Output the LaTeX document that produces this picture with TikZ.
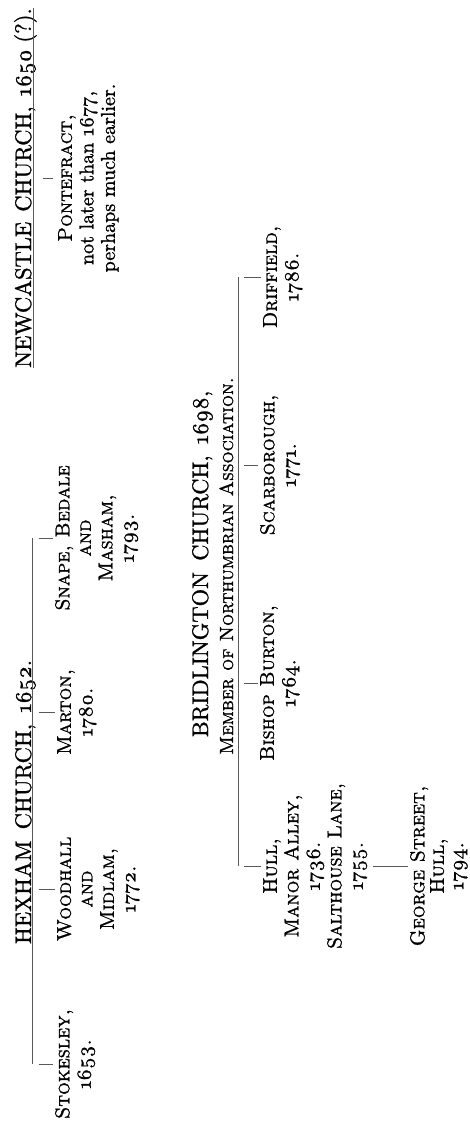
\documentclass[tikz,border=0pt]{standalone}
\usepackage{fontspec}
\setmainfont{lmroman10-regular}[Extension=.otf, FakeBold=1.2,
  SmallCapsFont=lmromancaps10-regular, SmallCapsFeatures={FakeBold=1.2}]
\newcommand\osn[1]{\oldstylenums{#1}}
\tikzset{
  headline/.style={rotate=90, inner sep=0pt, anchor=base, text=black,
    font=\fontsize{22.5}{25}\selectfont},
  subline/.style={rotate=90, inner sep=0pt, anchor=base, text=black,
    font=\fontsize{19}{21}\selectfont\scshape},
  branch/.style={rotate=90, inner sep=0pt, anchor=north, align=center, text=black,
    font=\fontsize{20}{21.5}\selectfont\scshape},
  branchnote/.style={rotate=90, inner sep=0pt, anchor=north, align=center, text=black,
    font=\fontsize{20}{21.5}\selectfont},
  bar/.style={draw=black!65, line width=0.9pt},
  twig/.style={bar, shorten <=6pt, shorten >=2pt},
}
\begin{document}
\begin{tikzpicture}[x=1pt, y=-1pt]
\useasboundingbox (0,0) rectangle (470,1123);
\fill[white] (0,0) rectangle (470,1123);

% ---- Newcastle ----
\node[headline] (ncl) at (31,188) {NEWCASTLE\hspace{0.45em}CHURCH,\hspace{0.45em}\osn{1650}\hspace{0.3em}(?).};
\coordinate (nclbar) at ([xshift=2pt]ncl.base);
\draw[bar] ([xshift=2pt]ncl.base west) -- ([xshift=2pt]ncl.base east);
\node[branchnote] (pont) at (58,178) {\textsc{Pontefract,}\\ not later than \osn{1677},\\ perhaps much earlier.};
\draw[twig, shorten <=10pt, shorten >=5pt] (pont.north -| nclbar) -- (pont.north);

% ---- Hexham ----
\node[headline] (hex) at (31,802) {HEXHAM\hspace{0.5em}CHURCH,\hspace{0.5em}\osn{1652}.};
\coordinate (hexbar) at (32.5,0);
\node[branch] (snape) at (55,538) {Snape, Bedale\\ and\\ Masham,\\ \osn{1793}.};
\node[branch] (marton) at (57,712) {Marton,\\ \osn{1780}.};
\node[branch] (woodhall) at (57,889) {Woodhall\\ and\\ Midlam,\\ \osn{1772}.};
\node[branch] (stokesley) at (55,1064) {Stokesley,\\ \osn{1653}.};
\draw[bar] (snape.north -| hexbar) -- (stokesley.north -| hexbar);
\foreach \n in {snape, marton, woodhall, stokesley}
  \draw[twig] (\n.north -| hexbar) -- (\n.north);

% ---- Bridlington ----
\node[headline] (brid) at (208,564) {BRIDLINGTON\hspace{0.5em}CHURCH,\hspace{0.5em}\osn{1698},};
\node[subline] (bridsub) at (233,566) {Member of Northumbrian Association.};
\coordinate (bridbar) at (238,0);
\node[branch] (driffield) at (263,277) {Driffield,\\ \osn{1786}.};
\node[branch] (scarborough) at (260,465) {Scarborough,\\ \osn{1771}.};
\node[branch] (bishop) at (260,683) {Bishop Burton,\\ \osn{1764}.};
\node[branch] (hull) at (263,866) {Hull,\\ Manor Alley,\\ \osn{1736}.\\ Salthouse Lane,\\ \osn{1755}.};
\node[branch, font=\fontsize{20}{19.5}\selectfont\scshape] (george) at (410,866) {George Street,\\ Hull,\\ \osn{1794}.};
\draw[bar] (driffield.north -| bridbar) -- (hull.north -| bridbar);
\foreach \n in {driffield, scarborough, bishop, hull}
  \draw[twig] (\n.north -| bridbar) -- (\n.north);
\draw[bar, shorten <=6pt, shorten >=2pt] (hull.south) -- (george.north);
\end{tikzpicture}
\end{document}
